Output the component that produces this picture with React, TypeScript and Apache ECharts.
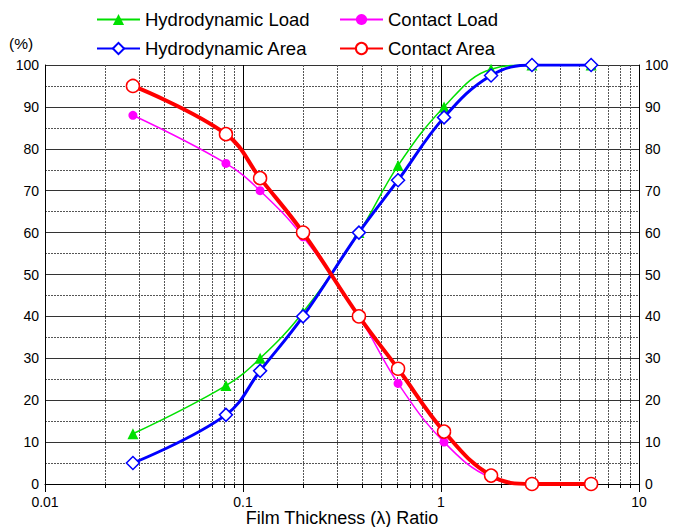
import React, { useEffect, useRef } from "react";
import * as echarts from "echarts";

const lambdaRatio = [0.0278, 0.082, 0.122, 0.201, 0.385, 0.607, 1.036, 1.79, 2.88, 5.73];
const hydroLoad = [12, 23.5, 30, 41, 60, 76, 90, 99, 100, 100];
const contactLoad = [88, 76.5, 70, 59, 40, 24, 10, 1.5, 0, 0];
const hydroArea = [5, 16.5, 27, 40, 60, 72.5, 87.5, 97.5, 100, 100];
const contactArea = [95, 83.5, 73, 60, 40, 27.5, 12.5, 2, 0, 0];
const minorX = [
  0.02, 0.03, 0.04, 0.05, 0.06, 0.07, 0.08, 0.09,
  0.2, 0.3, 0.4, 0.5, 0.6, 0.7, 0.8, 0.9,
  2, 3, 4, 5, 6, 7, 8, 9,
];

const FONT = "'Liberation Sans', Arial, sans-serif";

const pair = (ys: number[]) => lambdaRatio.map((x, i) => [x, ys[i]]);

export default function App() {
  const ref = useRef<HTMLDivElement>(null);
  useEffect(() => {
    document.body.style.margin = "0";
    const chart = echarts.init(ref.current!, undefined, { renderer: "svg" });
    const yAxisBase = {
      type: "value",
      min: 0,
      max: 100,
      interval: 10,
      axisLine: { show: true, lineStyle: { color: "#000", width: 1 } },
      axisTick: { show: false },
      axisLabel: { color: "#000", fontSize: 14, fontFamily: FONT, margin: 6 },
      splitLine: { show: true, lineStyle: { color: "#333", width: 1 } },
      minorTick: { show: false, splitNumber: 2 },
      minorSplitLine: { show: true, lineStyle: { color: "#555", width: 1, type: [2, 1] } },
    };
    const legendBase = {
      orient: "vertical",
      top: 5,
      itemWidth: 43,
      itemHeight: 14,
      itemGap: 10,
      textStyle: { fontSize: 18.5, color: "#000", fontFamily: FONT },
    };
    chart.setOption({
      animation: false,
      backgroundColor: "#fff",
      textStyle: { fontFamily: FONT },
      grid: { left: 45, right: 34, top: 65, bottom: 43, outerBoundsMode: "none", containLabel: false },
      legend: [
        { ...legendBase, left: 91, data: ["Hydrodynamic Load", "Hydrodynamic Area"] },
        { ...legendBase, left: 334, data: ["Contact Load", "Contact Area"] },
      ],
      graphic: [
        {
          type: "text",
          left: 9,
          top: 35,
          style: { text: "(%)", fontSize: 15.5, fontFamily: FONT, fill: "#000" },
        },
      ],
      xAxis: {
        type: "log",
        logBase: 10,
        min: 0.01,
        max: 10,
        name: "Film Thickness (λ) Ratio",
        nameLocation: "middle",
        nameGap: 26,
        nameMoveOverlap: false,
        nameTextStyle: { fontSize: 18, lineHeight: 15, color: "#000", fontFamily: FONT },
        axisLine: { show: true, lineStyle: { color: "#000", width: 1 } },
        axisTick: { show: true, length: 8, lineStyle: { color: "#000" } },
        axisLabel: {
          color: "#000",
          fontSize: 14,
          lineHeight: 12,
          fontFamily: FONT,
          margin: 12,
          formatter: (v: number) => String(Number(v.toPrecision(3))),
        },
        splitLine: { show: true, lineStyle: { color: "#000", width: 1 } },
      },
      yAxis: [
        { ...yAxisBase, position: "left" },
        { ...yAxisBase, position: "right", splitLine: { show: false }, minorSplitLine: { show: false } },
      ],
      series: [
        {
          type: "custom",
          silent: true,
          z: 1,
          clip: false,
          data: minorX.map((v) => [v]),
          encode: { x: 0 },
          renderItem: (params: any, api: any) => {
            const v = api.value(0);
            const t = api.coord([v, 100]);
            const b = api.coord([v, 0]);
            const x = Math.round(t[0]) + 0.5;
            return {
              type: "group",
              children: [
                {
                  type: "line",
                  shape: { x1: x, y1: t[1], x2: x, y2: b[1] },
                  style: { stroke: "#555", lineWidth: 1, lineDash: [2, 1] },
                },
                {
                  type: "line",
                  shape: { x1: x, y1: b[1], x2: x, y2: b[1] + 4 },
                  style: { stroke: "#000", lineWidth: 1 },
                },
              ],
            };
          },
        },
        {
          name: "Hydrodynamic Load",
          type: "line",
          smooth: 0.4,
          data: pair(hydroLoad),
          symbol: "triangle",
          symbolSize: 11,
          lineStyle: { color: "#00e000", width: 1.5 },
          itemStyle: { color: "#00e000", borderWidth: 0 },
          z: 3,
        },
        {
          name: "Contact Load",
          type: "line",
          smooth: 0.4,
          data: pair(contactLoad),
          symbol: "circle",
          symbolSize: 9,
          lineStyle: { color: "#ff00ff", width: 1.5 },
          itemStyle: { color: "#ff00ff", borderWidth: 0 },
          z: 3,
        },
        {
          name: "Hydrodynamic Area",
          type: "line",
          smooth: 0.4,
          data: pair(hydroArea),
          symbol: "diamond",
          symbolSize: 13,
          lineStyle: { color: "#0000ff", width: 3 },
          itemStyle: { color: "#fff", borderColor: "#0000ff", borderWidth: 1.5 },
          z: 4,
        },
        {
          name: "Contact Area",
          type: "line",
          smooth: 0.4,
          data: pair(contactArea),
          symbol: "circle",
          symbolSize: 13,
          lineStyle: { color: "#ff0000", width: 4 },
          itemStyle: { color: "#fff", borderColor: "#ff0000", borderWidth: 1.5 },
          z: 4,
        },
      ],
    });
    return () => chart.dispose();
  }, []);
  return <div ref={ref} style={{ width: 673, height: 527 }} />;
}
